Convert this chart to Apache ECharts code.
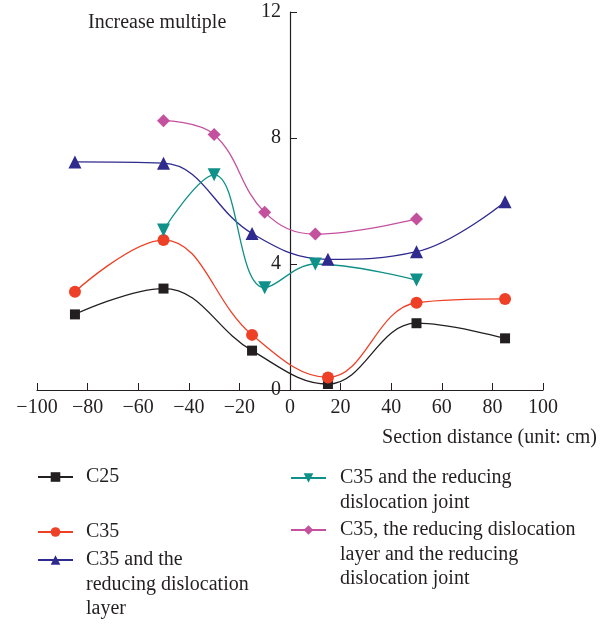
<!DOCTYPE html>
<html>
<head>
<meta charset="utf-8">
<script src="https://cdn.jsdelivr.net/npm/echarts@6/dist/echarts.min.js"></script>
<style>
  html, body { margin: 0; padding: 0; background: #fff; }
  #chart { width: 607px; height: 625px; }
</style>
</head>
<body>
<div id="chart"></div>
<script>
// Section distances (cm)
const xSix = [-85, -50, -15, 15, 50, 85];
const xFive = [-50, -30, -10, 10, 50];

// Increase multiple
const c25 = [2.40, 3.22, 1.25, 0.19, 2.12, 1.64];
const c35 = [3.12, 4.76, 1.75, 0.40, 2.77, 2.89];
const c35Layer = [7.24, 7.20, 4.97, 4.15, 4.39, 5.98];
const c35Joint = [5.08, 6.83, 3.25, 4.00, 3.49];
const c35Both = [8.55, 8.11, 5.64, 4.95, 5.43];

const names = [
  'C25',
  'C35',
  'C35 and the\nreducing dislocation\nlayer',
  'C35 and the reducing\ndislocation joint',
  'C35, the reducing dislocation\nlayer and the reducing\ndislocation joint'
];

const FONT = 'Liberation Serif';
const FS = 20;
const INK = '#231f20';
const LH = 24.5;

const pair = (xs, ys) => xs.map((x, i) => [x, ys[i]]);

const lineSeries = (name, xs, ys, color, symbol, size) => ({
  name,
  type: 'line',
  smooth: 0.4,
  data: pair(xs, ys),
  symbol,
  symbolSize: size,
  lineStyle: { color, width: 1.3 },
  itemStyle: { color },
  z: 3
});

// one legend per entry so the two columns can be placed like the figure;
// leading blank lines push the text down so its first line sits level with the icon
const legendAt = (name, left, iconY, lines, padLeft) => ({
  data: [name],
  left,
  top: iconY - (2 * lines - 1) * LH / 2,
  padding: 0,
  itemWidth: 35,
  itemHeight: 12,
  selectedMode: false,
  formatter: (n) => '\n'.repeat(lines - 1) + n,
  textStyle: {
    fontFamily: FONT,
    fontSize: FS,
    color: INK,
    lineHeight: LH,
    padding: [0, 0, 0, padLeft]
  }
});

const chart = echarts.init(document.getElementById('chart'));

chart.setOption({
  backgroundColor: '#fff',
  animation: false,
  textStyle: { fontFamily: FONT },
  title: [
    {
      text: 'Increase multiple',
      left: 88, top: 13, padding: 0,
      textStyle: { fontFamily: FONT, fontSize: FS, fontWeight: 'normal', color: INK }
    },
    {
      text: 'Section distance (unit: cm)',
      right: 10, top: 428, padding: 0,
      textStyle: { fontFamily: FONT, fontSize: FS, fontWeight: 'normal', color: INK }
    }
  ],
  legend: [
    legendAt(names[0], 37, 477, 1, 8),
    legendAt(names[1], 37, 532, 1, 8),
    legendAt(names[2], 37, 560, 3, 8),
    legendAt(names[3], 290, 478, 2, 9),
    legendAt(names[4], 290, 530, 3, 9)
  ],
  grid: { left: 37, right: 64, top: 12, bottom: 235 },
  xAxis: {
    type: 'value',
    min: -100,
    max: 100,
    interval: 20,
    splitLine: { show: false },
    axisLine: { onZero: true, lineStyle: { color: INK, width: 1.2 } },
    axisTick: { inside: true, length: 7, lineStyle: { color: INK } },
    axisLabel: {
      margin: 8,
      fontFamily: FONT, fontSize: FS, color: INK,
      formatter: (v) => (v < 0 ? '\u2212' + Math.abs(v) : String(v))
    }
  },
  yAxis: {
    type: 'value',
    min: 0,
    max: 12,
    interval: 4,
    // move the whole axis (line, ticks, labels) to x = 0
    offset: -253,
    splitLine: { show: false },
    axisLine: { show: true, onZero: false, lineStyle: { color: INK, width: 1.2 } },
    axisTick: { show: true, inside: true, length: 7, lineStyle: { color: INK } },
    axisLabel: { margin: 9, fontFamily: FONT, fontSize: FS, color: INK }
  },
  series: [
    lineSeries(names[0], xSix, c25, INK, 'rect', 10),
    lineSeries(names[1], xSix, c35, '#ee4027', 'circle', 12),
    lineSeries(names[2], xSix, c35Layer, '#2f2a8e', 'triangle', 13),
    lineSeries(names[3], xFive, c35Joint, '#0f9088', 'path://M0,0 L10,0 L5,9 Z', 13),
    lineSeries(names[4], xFive, c35Both, '#c4519e', 'diamond', 13)
  ]
});
</script>
</body>
</html>
